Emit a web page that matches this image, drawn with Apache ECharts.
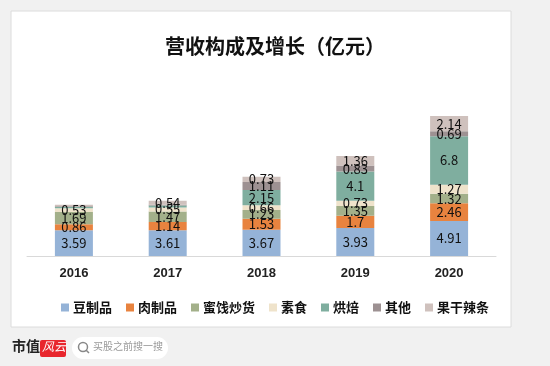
<!DOCTYPE html>
<html>
<head>
<meta charset="utf-8">
<script src="https://cdn.jsdelivr.net/npm/echarts@6/dist/echarts.min.js"></script>
<style>
  html, body { margin: 0; padding: 0; background: #f1f1f1; }
  #chart { width: 550px; height: 366px; }
</style>
</head>
<body>
<div id="chart"></div>
<script>
// 年份
const years = ['2016', '2017', '2018', '2019', '2020']

// 各品类营收（亿元），小值看不清的按条高估计
const douzhipin = [3.59, 3.61, 3.67, 3.93, 4.91]
const rouzhipin = [0.86, 1.14, 1.53, 1.7, 2.46]
const mijian = [1.69, 1.47, 1.23, 1.35, 1.32]
const sushi = [0.53, 0.55, 0.66, 0.73, 1.27]
const hongbei = [0.2, 0.3, 2.15, 4.1, 6.8]
const qita = [0.1, 0.1, 1.11, 0.83, 0.69]
const guogan = [0.2, 0.54, 0.73, 1.36, 2.14]

const names = ['豆制品', '肉制品', '蜜饯炒货', '素食', '烘焙', '其他', '果干辣条']
const colors = ['#95b3d7', '#e8833f', '#a3b08a', '#efe3cb', '#7fae9f', '#9d9192', '#cfc1bd']
const values = [douzhipin, rouzhipin, mijian, sushi, hongbei, qita, guogan]

const chart = echarts.init(document.getElementById('chart'))

const series = names.map((name, i) => ({
  name,
  type: 'bar',
  stack: 'total',
  barWidth: 38,
  data: values[i],
  itemStyle: { color: colors[i] },
  label: {
    show: true,
    position: 'inside',
    color: '#111',
    fontSize: 13,
    fontFamily: 'Noto Sans CJK SC',
    formatter: p => (p.value >= 0.5 ? p.value : '')
  }
}))

const option = {
  backgroundColor: '#f1f1f1',
  animation: false,
  title: {
    text: '营收构成及增长（亿元）',
    left: 'center',
    top: 31,
    textStyle: {
      fontSize: 20,
      fontWeight: 'bold',
      color: '#111',
      fontFamily: 'Noto Sans CJK SC'
    }
  },
  graphic: [
    {
      type: 'rect',
      z: -10,
      shape: { x: 11, y: 11, width: 500, height: 316 },
      style: { fill: '#fff', stroke: '#dcdcdc', lineWidth: 1 }
    },
    {
      type: 'text',
      left: 12,
      top: 339,
      style: { text: '市值', fontSize: 14, fontWeight: 'bold', fill: '#222', fontFamily: 'Noto Sans CJK SC' }
    },
    {
      type: 'rect',
      shape: { x: 40, y: 340, width: 26, height: 17, r: 2 },
      style: { fill: '#e8262d' }
    },
    {
      type: 'text',
      left: 42,
      top: 340,
      style: { text: '风云', fontSize: 12, fontStyle: 'italic', fill: '#fff', fontFamily: 'Noto Sans CJK SC' }
    },
    {
      type: 'rect',
      shape: { x: 72, y: 337, width: 96, height: 22, r: 11 },
      style: { fill: '#fff' }
    },
    {
      type: 'circle',
      shape: { cx: 83, cy: 347, r: 4.5 },
      style: { fill: 'none', stroke: '#888', lineWidth: 1.5 }
    },
    {
      type: 'line',
      shape: { x1: 86, y1: 350, x2: 89, y2: 353 },
      style: { stroke: '#888', lineWidth: 1.5 }
    },
    {
      type: 'text',
      left: 93,
      top: 341,
      style: { text: '买股之前搜一搜', fontSize: 10, fill: '#999', fontFamily: 'Noto Sans CJK SC' }
    }
  ],
  legend: {
    data: names,
    top: 296,
    left: 'center',
    itemWidth: 8,
    itemHeight: 8,
    itemGap: 14,
    icon: 'rect',
    textStyle: {
      fontSize: 13,
      fontWeight: 'bold',
      color: '#111',
      padding: [0, 0, 0, -1],
      fontFamily: 'Noto Sans CJK SC'
    }
  },
  grid: {
    left: 27,
    right: 54,
    top: 113,
    bottom: 110
  },
  xAxis: {
    type: 'category',
    data: years,
    axisTick: { show: false },
    axisLine: { lineStyle: { color: '#d9d9d9', width: 1 } },
    axisLabel: {
      margin: 11,
      fontSize: 13,
      fontWeight: 'bold',
      color: '#222',
      fontFamily: 'Liberation Sans'
    }
  },
  yAxis: {
    type: 'value',
    min: 0,
    max: 20,
    show: false
  },
  series
}

chart.setOption(option)
</script>
</body>
</html>
